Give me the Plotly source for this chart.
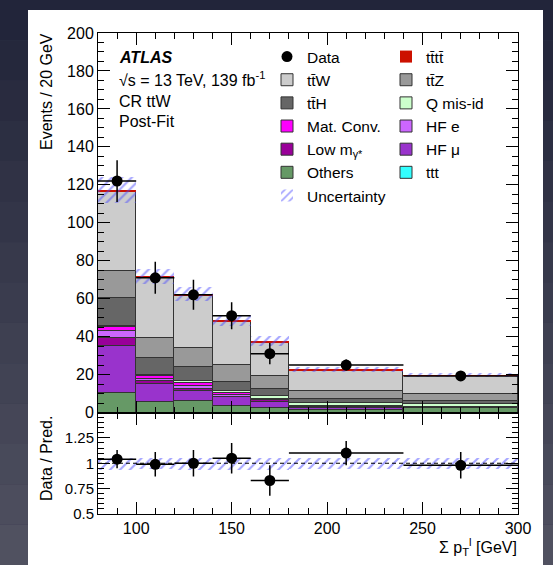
import numpy as np
import plotly.graph_objects as go

# ---------------- data ----------------
bin_edges = [80, 100, 120, 140, 160, 180, 240, 300]

others  = [10.1, 5.5, 6.0, 3.2, 2.3, 1.4, 2.4]
hf_mu   = [25.0, 9.7, 5.3, 4.8, 3.3, 1.2, 0.3]
low_m   = [4.0, 1.3, 1.0, 0.4, 0.8, 0.3, 0.1]
hf_e    = [4.0, 1.3, 1.5, 0.6, 0.2, 0.2, 0.1]
mat_conv = [2.2, 1.4, 1.5, 1.3, 0.4, 0.2, 0.1]
q_misid = [0.3, 0.6, 1.5, 0.8, 1.7, 1.6, 1.6]
tth     = [14.8, 9.0, 7.4, 5.2, 3.5, 2.0, 1.4]
ttz     = [14.4, 10.4, 10.0, 8.7, 7.1, 4.4, 3.8]
ttw     = [41.3, 31.8, 27.5, 22.9, 17.7, 11.0, 9.6]
ttt     = [0.1, 0.1, 0.1, 0.1, 0.1, 0.05, 0.05]
tttt    = [1.1, 0.6, 0.6, 0.5, 0.5, 0.4, 0.3]

data_vals = [122, 71, 62, 51, 31, 25, 19.3]
data_err  = [11.0, 8.4, 7.9, 7.1, 5.6, 2.9, 2.5]
unc_abs   = [7.0, 4.0, 3.6, 3.0, 2.6, 1.2, 1.0]

ratio_vals = [1.04, 0.99, 1.0, 1.05, 0.83, 1.10, 0.98]
ratio_err  = [0.09, 0.12, 0.13, 0.15, 0.15, 0.12, 0.13]
ratio_unc  = [0.06, 0.055, 0.058, 0.06, 0.06, 0.055, 0.055]

ratio_ticks = [0.5, 0.75, 1, 1.25]
ratio_ticktext = ["0.5", "0.75", "1", "1.25"]

# ---------------- geometry ----------------
W, H = 553, 565
ML, MR, MT, MB = 98, 35, 33, 51
PW, PH = W - ML - MR, H - MT - MB
split = (514 - 412.5) / PH


def px(xp):
    return (xp - ML) / PW


def py(yp):
    return (H - MB - yp) / PH


edges = np.array(bin_edges, dtype=float)
centers = (edges[:-1] + edges[1:]) / 2
widths = np.diff(edges)

stack = [
    ("Others", others, "#669966", "legend", 6),
    ("HF μ", hf_mu, "#9933cc", "legend2", 5),
    ("Low m<sub>γ*</sub>", low_m, "#990099", "legend", 5),
    ("HF e", hf_e, "#cc66ff", "legend2", 4),
    ("Mat. Conv.", mat_conv, "#ff00ff", "legend", 4),
    ("Q mis-id", q_misid, "#ccffcc", "legend2", 3),
    ("tt\u0304H", tth, "#666666", "legend", 3),
    ("tt\u0304Z", ttz, "#999999", "legend2", 2),
    ("tt\u0304W", ttw, "#cccccc", "legend", 2),
    ("ttt", ttt, "#33ffff", "legend2", 6),
    ("tt\u0304tt\u0304", tttt, "#cc1100", "legend2", 1),
]

fig = go.Figure()

base = np.zeros(len(centers))
for name, vals, col, leg, rank in stack:
    v = np.array(vals, dtype=float)
    lw = 0 if name.startswith("tt\u0304tt") else 1
    fig.add_trace(go.Bar(
        x=centers, y=v, base=base, width=widths, name=name,
        marker=dict(color=col, line=dict(color="#333333", width=lw)),
        legend=leg, legendrank=rank, xaxis="x", yaxis="y",
    ))
    base = base + v
total = base

hatch = dict(shape="/", fgcolor="#4a4aff", bgcolor="rgba(0,0,0,0)",
             size=7, solidity=0.3, fillmode="overlay")
unc = np.array(unc_abs)
fig.add_trace(go.Bar(
    x=centers, y=2 * unc, base=total - unc, width=widths, name="Uncertainty",
    marker=dict(color="rgba(0,0,0,0)", line=dict(width=0), pattern=hatch),
    legend="legend", legendrank=7, xaxis="x", yaxis="y",
))

fig.add_trace(go.Scatter(
    x=centers, y=data_vals, mode="markers", name="Data",
    marker=dict(color="black", size=11),
    error_x=dict(type="data", array=widths / 2, color="black", thickness=1.5, width=0),
    error_y=dict(type="data", array=data_err, color="black", thickness=1.5, width=0),
    legend="legend", legendrank=1, xaxis="x", yaxis="y",
))

# ratio panel
runc = np.array(ratio_unc)
fig.add_trace(go.Bar(
    x=centers, y=2 * runc, base=1 - runc, width=widths, showlegend=False,
    marker=dict(color="rgba(0,0,0,0)", line=dict(width=0), pattern=hatch),
    xaxis="x2", yaxis="y2",
))
fig.add_trace(go.Scatter(
    x=centers, y=ratio_vals, mode="markers", showlegend=False,
    marker=dict(color="black", size=11),
    error_x=dict(type="data", array=widths / 2, color="black", thickness=1.5, width=0),
    error_y=dict(type="data", array=ratio_err, color="black", thickness=1.5, width=0),
    xaxis="x2", yaxis="y2",
))

# ---------------- background ----------------
shapes = []
nb = 14
c0 = np.array([0x22, 0x25, 0x3a])
c1 = np.array([0x50, 0x51, 0x60])
for i in range(nb):
    c = c0 + (c1 - c0) * i / (nb - 1)
    shapes.append(dict(type="rect", xref="paper", yref="paper",
                       x0=px(0), x1=px(W), y0=py(H * (i + 1) / nb), y1=py(H * i / nb),
                       fillcolor="rgb(%d,%d,%d)" % tuple(c.astype(int)),
                       line=dict(width=0), layer="below"))
shapes.append(dict(type="rect", xref="paper", yref="paper",
                   x0=px(28), x1=px(543), y0=py(H + 2), y1=py(10),
                   fillcolor="white", line=dict(width=0), layer="below"))
shapes.append(dict(type="line", xref="x2", yref="y2", x0=80, x1=300, y0=1, y1=1,
                   line=dict(color="black", width=1.2, dash="4px,3px")))

FONT = "Liberation Sans, Arial, Helvetica, sans-serif"


def ann(text, x, y, size=16, xanchor="left", yanchor="middle", angle=0):
    return dict(text=text, x=px(x), y=py(y), xref="paper", yref="paper",
                xanchor=xanchor, yanchor=yanchor, showarrow=False,
                textangle=angle, font=dict(size=size, color="black", family=FONT))


annotations = [
    ann("<b><i>ATLAS</i></b>", 117, 57),
    ann("√s = 13 TeV, 139 fb<sup>-1</sup>", 117, 79),
    ann("CR ttW", 117, 101),
    ann("Post-Fit", 117, 122),
    ann("Events / 20 GeV", 47, 92, xanchor="center", angle=-90),
    ann("Data / Pred.", 47, 459, xanchor="center", angle=-90),
    ann("Σ p<sub>T</sub><sup>l</sup> [GeV]", 519, 534, xanchor="right", yanchor="top"),
]

axis_common = dict(showline=True, linecolor="black", linewidth=1, mirror="ticks",
                   ticks="inside", tickcolor="black", showgrid=False, zeroline=False)
tf16 = dict(size=16, color="black", family=FONT)
tf15 = dict(size=15, color="black", family=FONT)

fig.update_layout(
    width=W, height=H,
    margin=dict(l=ML, r=MR, t=MT, b=MB),
    paper_bgcolor="#34374b", plot_bgcolor="white",
    barmode="overlay", bargap=0,
    font=dict(family=FONT, color="black"),
    shapes=shapes, annotations=annotations,
    xaxis=dict(domain=[0, 1], anchor="y", range=[80, 300], dtick=50, tick0=0,
               ticklen=12, showticklabels=False, matches="x2", tickfont=tf16,
               minor=dict(dtick=10, ticklen=6, ticks="inside", tickcolor="black"),
               **axis_common),
    yaxis=dict(domain=[split, 1], anchor="x", range=[0, 200], dtick=20, ticklen=12,
               tickfont=tf16,
               minor=dict(dtick=5, ticklen=6, ticks="inside", tickcolor="black"),
               **axis_common),
    xaxis2=dict(domain=[0, 1], anchor="y2", range=[80, 300], dtick=50, tick0=0,
                ticklen=12, tickfont=tf16,
                minor=dict(dtick=10, ticklen=6, ticks="inside", tickcolor="black"),
                **axis_common),
    yaxis2=dict(domain=[0, split], anchor="x2", range=[0.5, 1.5],
                tickvals=ratio_ticks, ticktext=ratio_ticktext, ticklen=12,
                tickfont=tf15,
                minor=dict(dtick=0.05, ticklen=6, ticks="inside", tickcolor="black"),
                **axis_common),
    legend=dict(x=px(267), y=py(40), xanchor="left", yanchor="top",
                bgcolor="rgba(0,0,0,0)", font=dict(size=15.5, family=FONT, color="black"),
                traceorder="normal", tracegroupgap=0),
    legend2=dict(x=px(386), y=py(40), xanchor="left", yanchor="top",
                 bgcolor="rgba(0,0,0,0)", font=dict(size=15.5, family=FONT, color="black"),
                 traceorder="normal", tracegroupgap=0),
)

fig.write_html("out.html")
